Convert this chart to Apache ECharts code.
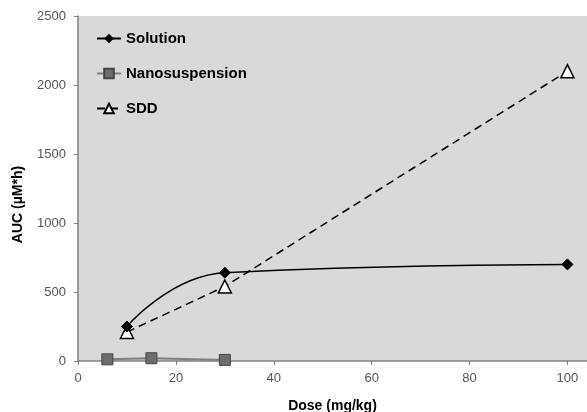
<!DOCTYPE html>
<html>
<head>
<meta charset="utf-8">
<script src="https://cdn.jsdelivr.net/npm/echarts@6/dist/echarts.min.js"></script>
<style>
  html, body { margin: 0; padding: 0; background: #fff; }
  #chart { width: 587px; height: 412px; }
</style>
</head>
<body>
<div id="chart"></div>
<script>
  /** Data */
  var solutionDose = [10, 30, 100];
  var solutionAuc = [250, 640, 700];
  var nanoDose = [6, 15, 30];
  var nanoAuc = [12, 20, 8];
  var sddDose = [10, 30, 100];
  var sddAuc = [210, 540, 2100];
  var xTicks = [0, 20, 40, 60, 80, 100];
  var yTicks = [0, 500, 1000, 1500, 2000, 2500];

  function pairs(xs, ys) {
    return xs.map(function(x, i) { return [x, ys[i]]; });
  }

  var labelStyle = {
    color: '#555', fontSize: 13, fontFamily: 'Liberation Sans, Arial',
    formatter: function(v) { return String(v); }
  };
  var nameStyle = { color: '#000', fontSize: 14, fontWeight: 'bold', fontFamily: 'Liberation Sans, Arial' };

  var option = {
    animation: false,
    grid: {
      left: 78, right: 0, top: 16, bottom: 51,
      outerBoundsMode: 'none',
      containLabel: false,
      show: true, backgroundColor: '#d9d9d9', borderWidth: 0
    },
    legend: {
      orient: 'vertical',
      left: 91, top: 26,
      itemWidth: 24, itemHeight: 12, itemGap: 20,
      textStyle: { color: '#000', fontSize: 15, fontWeight: 'bold', fontFamily: 'Liberation Sans, Arial' },
      data: ['Solution', 'Nanosuspension', 'SDD']
    },
    xAxis: {
      type: 'value',
      min: 0, max: 104, interval: 20,
      name: 'Dose (mg/kg)',
      nameLocation: 'middle', nameGap: 38,
      nameTextStyle: nameStyle,
      axisLine: { lineStyle: { color: '#808080', width: 1.5 } },
      axisTick: { length: 4, lineStyle: { color: '#808080' }, customValues: xTicks },
      axisLabel: Object.assign({ margin: 11, customValues: xTicks }, labelStyle),
      splitLine: { show: false }
    },
    yAxis: {
      type: 'value',
      min: 0, max: 2500, interval: 500,
      name: 'AUC (µM*h)',
      nameLocation: 'middle', nameGap: 53,
      nameTextStyle: Object.assign({ padding: [0, 0, 0, -32] }, nameStyle),
      axisLine: { show: true, lineStyle: { color: '#808080', width: 1.5 } },
      axisTick: { show: true, length: 4, lineStyle: { color: '#808080' }, customValues: yTicks },
      axisLabel: Object.assign({ margin: 12, customValues: yTicks }, labelStyle),
      splitLine: { show: false }
    },
    series: [{
      name: 'Solution',
      type: 'line',
      smooth: 0.5,
      data: pairs(solutionDose, solutionAuc),
      symbol: 'diamond', symbolSize: 11,
      lineStyle: { color: '#000', width: 1.5 },
      itemStyle: { color: '#000', borderColor: '#000' },
      z: 3
    }, {
      name: 'Nanosuspension',
      type: 'line',
      data: pairs(nanoDose, nanoAuc),
      symbol: 'rect', symbolSize: 11,
      lineStyle: { color: '#7f7f7f', width: 2 },
      itemStyle: { color: '#6d6d6d', borderColor: '#444', borderWidth: 1 },
      z: 2
    }, {
      name: 'SDD',
      type: 'line',
      data: pairs(sddDose, sddAuc),
      symbol: 'triangle', symbolSize: 13,
      lineStyle: { color: '#000', width: 1.5, type: [8, 5] },
      itemStyle: { color: '#fff', borderColor: '#000', borderWidth: 1.5 },
      z: 2
    }]
  };

  echarts.init(document.getElementById('chart')).setOption(option);
</script>
</body>
</html>
